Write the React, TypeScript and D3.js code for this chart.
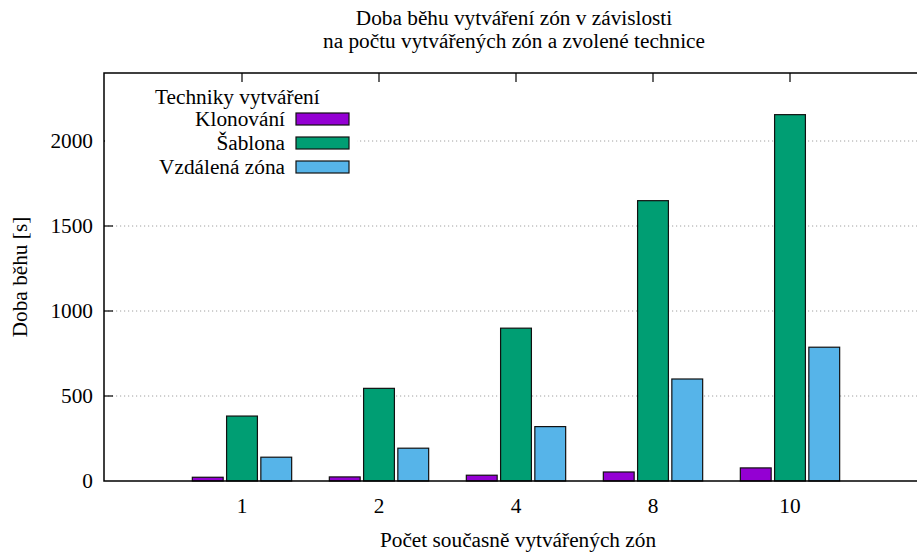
import React, { useEffect, useRef } from 'react';
import * as d3 from 'd3';

// zone counts on the x axis
const categories = ['1', '2', '4', '8', '10'];
const seriesNames = ['Klonování', 'Šablona', 'Vzdálená zóna'];
const colors = ['#9400d3', '#009e73', '#56b4e9'];
// run time [s] per technique
const cloning = [22, 24, 34, 53, 77];
const template = [382, 545, 899, 1649, 2155];
const remote = [140, 193, 320, 600, 787];
const yTicks = [0, 500, 1000, 1500, 2000];

const App = () => {
  const svgRef = useRef<SVGSVGElement>(null);

  useEffect(() => {
    document.body.style.margin = '0';
    const svg = d3.select(svgRef.current);
    svg.selectAll('*').remove();

    const width = 917;
    const margin = { top: 73, left: 104, bottom: 481, right: 927 };
    const font = '"Liberation Serif", "Times New Roman", serif';
    const fs = 21.3;

    const x = d3.scaleLinear().domain([-1, 5]).range([margin.left + 1, margin.right]);
    const y = d3.scaleLinear().domain([0, 2400]).range([margin.bottom, margin.top]);

    const slot = (x(1) - x(0)) / 4;
    const barW = slot * 0.9;
    const series = [cloning, template, remote];

    const g = svg.append('g');

    // grid
    g.selectAll('.grid')
      .data(yTicks.filter(t => t > 0))
      .enter()
      .append('line')
      .attr('x1', margin.left)
      .attr('x2', width)
      .attr('y1', d => y(d))
      .attr('y2', d => y(d))
      .attr('stroke', '#a0a0a0')
      .attr('stroke-width', 1)
      .attr('stroke-dasharray', '1.2,2.8');

    // bars
    series.forEach((vals, j) => {
      g.selectAll(`.bar${j}`)
        .data(vals)
        .enter()
        .append('rect')
        .attr('x', (d, i) => x(i) + (j - 1) * slot - barW / 2)
        .attr('y', d => y(d))
        .attr('width', barW)
        .attr('height', d => y(0) - y(d))
        .attr('fill', colors[j])
        .attr('stroke', '#111')
        .attr('stroke-width', 1.2);
    });

    // border
    g.append('path')
      .attr('d', `M${width + 5},${margin.top}H${margin.left}V${margin.bottom}H${width + 5}`)
      .attr('fill', 'none')
      .attr('stroke', '#000')
      .attr('stroke-width', 1.5);

    // y ticks + labels
    yTicks.forEach(t => {
      if (t > 0) {
        g.append('line')
          .attr('x1', margin.left)
          .attr('x2', margin.left + 9)
          .attr('y1', y(t))
          .attr('y2', y(t))
          .attr('stroke', '#000')
          .attr('stroke-width', 1.2);
      }
      g.append('text')
        .attr('x', margin.left - 11)
        .attr('y', y(t) + 7)
        .attr('text-anchor', 'end')
        .attr('font-family', font)
        .attr('font-size', fs)
        .text(t);
    });

    // x ticks (top, inward) + labels
    categories.forEach((c, i) => {
      g.append('line')
        .attr('x1', x(i))
        .attr('x2', x(i))
        .attr('y1', margin.top)
        .attr('y2', margin.top + 9)
        .attr('stroke', '#000')
        .attr('stroke-width', 1.2);
      g.append('text')
        .attr('x', x(i))
        .attr('y', 513)
        .attr('text-anchor', 'middle')
        .attr('font-family', font)
        .attr('font-size', fs)
        .text(c);
    });

    // legend (opaque key)
    const lg = g.append('g');
    lg.append('rect')
      .attr('x', margin.left + 1)
      .attr('y', 82)
      .attr('width', 252)
      .attr('height', 96)
      .attr('fill', '#fff');
    lg.append('text')
      .attr('x', 155)
      .attr('y', 104)
      .attr('font-family', font)
      .attr('font-size', fs)
      .text('Techniky vytváření');
    seriesNames.forEach((name, j) => {
      const cy = 119 + j * 24;
      lg.append('text')
        .attr('x', 285)
        .attr('y', cy + 7)
        .attr('text-anchor', 'end')
        .attr('font-family', font)
        .attr('font-size', fs)
        .text(name);
      lg.append('rect')
        .attr('x', 296)
        .attr('y', cy - 6)
        .attr('width', 53)
        .attr('height', 12)
        .attr('fill', colors[j])
        .attr('stroke', '#111')
        .attr('stroke-width', 1.2);
    });

    // title
    const title = g.append('text')
      .attr('text-anchor', 'middle')
      .attr('font-family', font)
      .attr('font-size', fs);
    title.append('tspan').attr('x', 514).attr('y', 25).text('Doba běhu vytváření zón v závislosti');
    title.append('tspan').attr('x', 514).attr('y', 48).text('na počtu vytvářených zón a zvolené technice');

    // axis labels
    g.append('text')
      .attr('x', 518)
      .attr('y', 547)
      .attr('text-anchor', 'middle')
      .attr('font-family', font)
      .attr('font-size', fs)
      .text('Počet současně vytvářených zón');
    g.append('text')
      .attr('transform', `translate(27,${(margin.top + margin.bottom) / 2}) rotate(-90)`)
      .attr('text-anchor', 'middle')
      .attr('font-family', font)
      .attr('font-size', fs)
      .text('Doba běhu [s]');
  }, []);

  return <svg ref={svgRef} width={917} height={554} style={{ display: 'block', background: '#fff' }} />;
};

export default App;
